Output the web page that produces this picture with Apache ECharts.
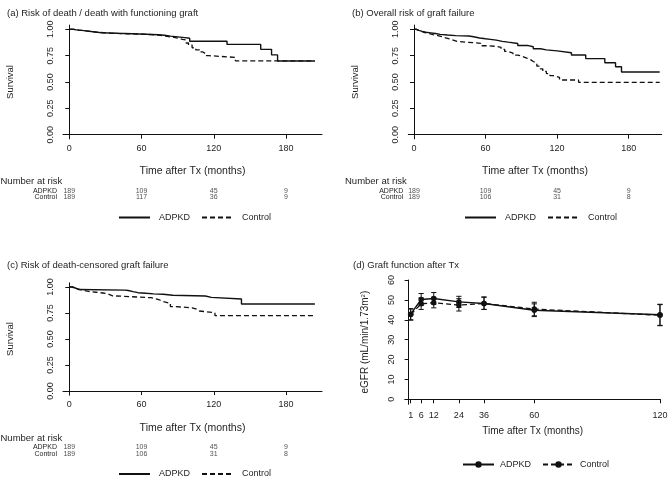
<!DOCTYPE html>
<html><head><meta charset="utf-8">
<script src="https://cdn.jsdelivr.net/npm/echarts@6/dist/echarts.min.js"></script>
<style>html,body{margin:0;padding:0;background:#fff}#c{width:669px;height:483px}</style>
</head><body><div id="c"></div>
<script>
// ---------- DATA ----------
const kmTicks = [0, 60, 120, 180];
const survTicks = [0, 0.25, 0.5, 0.75, 1];
// (a) death / death with functioning graft  [months, survival]
const kmA_adpkd = [[0,1],[3,0.995],[6,0.99],[10,0.985],[14,0.979],[18,0.973],[22,0.967],[27,0.962],[40,0.958],[52,0.953],[64,0.948],[74,0.944],[79,0.935],[84,0.928],[90,0.921],[96,0.915],[100,0.887],[131,0.857],[159,0.81],[168,0.757],[173,0.70],[204,0.70]];
const kmA_control = [[0,1],[4,0.993],[8,0.986],[13,0.979],[18,0.972],[24,0.962],[35,0.958],[48,0.954],[60,0.95],[68,0.944],[74,0.935],[80,0.925],[86,0.915],[91,0.905],[94,0.9],[97,0.87],[99,0.85],[102,0.825],[105,0.805],[108,0.785],[111,0.77],[113,0.75],[116,0.734],[138,0.70],[204,0.70]];
// (b) overall graft failure
const kmB_adpkd = [[0,1],[2,0.99],[4,0.98],[7,0.972],[10,0.966],[14,0.96],[18,0.952],[22,0.946],[28,0.94],[35,0.937],[46,0.93],[50,0.918],[55,0.91],[60,0.905],[64,0.897],[69,0.886],[74,0.878],[79,0.866],[87,0.847],[95,0.835],[100,0.815],[106,0.805],[111,0.795],[120,0.778],[132,0.756],[144,0.722],[160,0.683],[169,0.645],[174,0.595],[206,0.595]];
const kmB_control = [[0,1],[2,0.985],[5,0.972],[8,0.962],[12,0.95],[16,0.94],[20,0.928],[24,0.915],[28,0.9],[32,0.885],[36,0.867],[56,0.844],[62,0.838],[69,0.829],[73,0.81],[76,0.79],[79,0.775],[83,0.756],[87,0.742],[91,0.725],[95,0.71],[98,0.695],[100,0.677],[103,0.65],[106,0.625],[108,0.6],[111,0.58],[114,0.56],[117,0.545],[122,0.519],[138,0.497],[206,0.497]];
// (c) death-censored graft failure
const kmC_adpkd = [[0,1],[2,0.99],[5,0.975],[8,0.97],[46,0.966],[49,0.955],[53,0.945],[57,0.939],[64,0.934],[70,0.93],[78,0.92],[86,0.913],[113,0.9],[118,0.885],[143,0.837],[204,0.837]];
const kmC_control = [[0,1],[3,0.985],[6,0.975],[9,0.962],[14,0.955],[17,0.949],[22,0.942],[28,0.933],[32,0.915],[36,0.897],[68,0.885],[72,0.875],[75,0.86],[78,0.843],[84,0.811],[88,0.8],[102,0.785],[106,0.769],[108,0.753],[121,0.724],[203,0.724]];
// number at risk
const riskTimes = [0, 60, 120, 180];
const riskA_adpkd = [189, 109, 45, 9];
const riskA_control = [189, 117, 36, 9];
const riskB_adpkd = [189, 109, 45, 9];
const riskB_control = [189, 106, 31, 8];
const riskC_adpkd = [189, 109, 45, 9];
const riskC_control = [189, 106, 31, 8];
// (d) eGFR
const months = [1, 6, 12, 24, 36, 60, 120];
const egfrTicks = [0, 10, 20, 30, 40, 50, 60];
const egfrAdpkd = [42.8, 50.2, 50.7, 49.0, 48.2, 44.8, 42.5];
const egfrAdpkdLow = [40.0, 47.2, 47.8, 46.2, 45.2, 41.6, 37.2];
const egfrAdpkdHigh = [45.6, 53.2, 53.7, 51.8, 51.3, 48.0, 47.8];
const egfrControl = [42.6, 48.0, 48.6, 47.4, 48.2, 45.4, 42.3];
const egfrControlLow = [39.8, 45.2, 46.0, 44.4, 45.2, 42.0, 37.0];
const egfrControlHigh = [45.4, 51.0, 51.3, 50.6, 51.5, 48.8, 47.6];

// ---------- STYLE ----------
const FONT = '"Liberation Sans", Arial, Helvetica, sans-serif';
const TXT = '#1e1e1e';
const LINE = '#111';
const DASH = [5, 3];

const chart = echarts.init(document.getElementById('c'), null, {renderer: 'canvas'});

function grid(left, top, width, height) {
  return {left, top, width, height, outerBoundsMode: 'none', containLabel: false};
}
function kmX(gi, min, max) {
  return {
    type: 'value', gridIndex: gi, min, max,
    name: 'Time after Tx (months)', nameLocation: 'middle', nameGap: 27,
    nameTextStyle: {fontFamily: FONT, fontSize: 10.5, color: TXT},
    axisLine: {show: true, lineStyle: {color: LINE, width: 1}},
    axisTick: {show: true, length: 4, customValues: kmTicks, lineStyle: {color: LINE}},
    axisLabel: {show: true, customValues: kmTicks, margin: 5, fontFamily: FONT, fontSize: 9, color: TXT},
    splitLine: {show: false}
  };
}
function kmY(gi) {
  return {
    type: 'value', gridIndex: gi, min: -0.04, max: 1.04,
    name: 'Survival', nameLocation: 'middle', nameGap: 48, nameRotate: 90,
    nameTextStyle: {fontFamily: FONT, fontSize: 9.5, color: TXT},
    axisLine: {show: true, lineStyle: {color: LINE, width: 1}},
    axisTick: {show: true, length: 4, customValues: survTicks, lineStyle: {color: LINE}},
    axisLabel: {show: true, customValues: survTicks, rotate: 90, margin: 8, fontFamily: FONT, fontSize: 9, color: TXT,
      formatter: v => v.toFixed(2)},
    splitLine: {show: false}
  };
}
function riskX(gi, min, max) {
  return {type: 'value', gridIndex: gi, min, max, show: false, splitLine: {show: false}};
}
function riskY(gi, margin) {
  return {type: 'category', gridIndex: gi, data: ['ADPKD', 'Control'], inverse: true, boundaryGap: false,
    axisLine: {show: false}, axisTick: {show: false}, splitLine: {show: false},
    axisLabel: {show: true, interval: 0, hideOverlap: false, margin, fontFamily: FONT, fontSize: 7, color: TXT}};
}
function kmSeries(name, data, gi, dashed) {
  return {type: 'line', name, xAxisIndex: gi, yAxisIndex: gi, data, step: 'end', symbol: 'none', showSymbol: false,
    silent: true, animation: false,
    lineStyle: {color: LINE, width: dashed ? 1.3 : 1.4, type: dashed ? DASH : 'solid'},
    itemStyle: {color: LINE}};
}
function riskSeries(gi, group, values) {
  return {type: 'scatter', xAxisIndex: gi, yAxisIndex: gi, symbolSize: 0, silent: true, animation: false,
    data: riskTimes.map((t, i) => [t, group, values[i]]),
    label: {show: true, position: 'inside', formatter: p => String(p.value[2]), fontFamily: FONT, fontSize: 7, color: TXT}};
}
function errSeries(gi, lows, highs) {
  return {type: 'custom', xAxisIndex: gi, yAxisIndex: gi, silent: true, animation: false, clip: false,
    data: months.map((m, i) => [m, lows[i], highs[i]]),
    encode: {x: 0, y: [1, 2]},
    renderItem: (params, api) => {
      const lo = api.coord([api.value(0), api.value(1)]);
      const hi = api.coord([api.value(0), api.value(2)]);
      const w = 2.6;
      const st = {stroke: LINE, lineWidth: 1};
      return {type: 'group', children: [
        {type: 'line', shape: {x1: lo[0], y1: lo[1], x2: hi[0], y2: hi[1]}, style: st},
        {type: 'line', shape: {x1: lo[0] - w, y1: lo[1], x2: lo[0] + w, y2: lo[1]}, style: st},
        {type: 'line', shape: {x1: hi[0] - w, y1: hi[1], x2: hi[0] + w, y2: hi[1]}, style: st}
      ]};
    }};
}
function legend(left, top, names, textPad, hideSymbol) {
  const l = {left, top, padding: 0, itemWidth: 31, itemHeight: 8, itemGap: 11, selectedMode: false,
    data: names, formatter: n => n.trim(),
    textStyle: {fontFamily: FONT, fontSize: 9, color: TXT, padding: [0, 0, 0, textPad]}};
  if (hideSymbol) l.itemStyle = {opacity: 0};
  return l;
}
function ttl(text, left, top, size) {
  return {text, left, top, padding: 0,
    textStyle: {fontFamily: FONT, fontSize: size, fontWeight: 'normal', color: TXT}};
}

const dX = {
  type: 'value', gridIndex: 3, min: -1.72, max: 120.2,
  name: 'Time after Tx (months)', nameLocation: 'middle', nameGap: 22,
  nameTextStyle: {fontFamily: FONT, fontSize: 10, color: TXT},
  axisLine: {show: true, lineStyle: {color: LINE}},
  axisTick: {show: true, length: 4, customValues: months, lineStyle: {color: LINE}},
  axisLabel: {show: true, customValues: months, margin: 7, fontFamily: FONT, fontSize: 9, color: TXT},
  splitLine: {show: false}
};
const dY = {
  type: 'value', gridIndex: 3, min: -2.5, max: 60,
  name: 'eGFR (mL/min/1.73m{sup|2})', nameLocation: 'middle', nameGap: 34, nameRotate: 90,
  nameTextStyle: {fontFamily: FONT, fontSize: 10, color: TXT,
    rich: {sup: {fontFamily: FONT, fontSize: 6, color: TXT, verticalAlign: 'top', padding: [0, 0, 5, 0]}}},
  axisLine: {show: true, lineStyle: {color: LINE}},
  axisTick: {show: true, length: 4, customValues: egfrTicks, lineStyle: {color: LINE}},
  axisLabel: {show: true, customValues: egfrTicks, rotate: 90, margin: 9, fontFamily: FONT, fontSize: 9, color: TXT},
  splitLine: {show: false}
};

const option = {
  backgroundColor: '#fff',
  animation: false,
  title: [
    ttl('(a) Risk of death / death with functioning graft', 7, 8, 9.5),
    ttl('(b) Overall risk of graft failure', 352, 8, 9.5),
    ttl('(c) Risk of death-censored graft failure', 7, 260, 9.5),
    ttl('(d) Graft function after Tx', 353, 260, 9.5),
    ttl('Number at risk', 0.5, 176.5, 9.5),
    ttl('Number at risk', 345, 176.5, 9.5),
    ttl('Number at risk', 0.5, 433, 9.5)
  ],
  legend: [
    legend(118, 213, ['ADPKD', 'Control'], 4, true),
    legend(464, 213, ['ADPKD', 'Control'], 4, true),
    legend(118, 469.5, ['ADPKD', 'Control'], 4, true),
    legend(462, 460, ['ADPKD ', 'Control '], 1, false)
  ],
  grid: [
    grid(63, 25.1, 259, 113.8),
    grid(408.3, 25.1, 253.4, 113.8),
    grid(63, 282.8, 259, 112.4),
    grid(405, 280, 255.4, 124.3),
    grid(63, 191, 259, 6.5),
    grid(408.3, 191, 253.4, 6.5),
    grid(63, 447.5, 259, 6.5)
  ],
  xAxis: [
    kmX(0, -5.23, 209.9),
    kmX(1, -4.78, 207.7),
    kmX(2, -5.23, 209.9),
    dX,
    riskX(4, -5.23, 209.9),
    riskX(5, -4.78, 207.7),
    riskX(6, -5.23, 209.9)
  ],
  yAxis: [
    kmY(0), kmY(1), kmY(2), dY,
    riskY(4, 6), riskY(5, 5), riskY(6, 6)
  ],
  series: [
    kmSeries('ADPKD', kmA_adpkd, 0, false),
    kmSeries('Control', kmA_control, 0, true),
    kmSeries('ADPKD', kmB_adpkd, 1, false),
    kmSeries('Control', kmB_control, 1, true),
    kmSeries('ADPKD', kmC_adpkd, 2, false),
    kmSeries('Control', kmC_control, 2, true),
    {type: 'line', name: 'ADPKD ', xAxisIndex: 3, yAxisIndex: 3, data: months.map((m, i) => [m, egfrAdpkd[i]]),
      symbol: 'circle', symbolSize: 5.5, silent: true, animation: false,
      lineStyle: {color: LINE, width: 1.4}, itemStyle: {color: LINE}},
    {type: 'line', name: 'Control ', xAxisIndex: 3, yAxisIndex: 3, data: months.map((m, i) => [m, egfrControl[i]]),
      symbol: 'circle', symbolSize: 5.5, silent: true, animation: false,
      lineStyle: {color: LINE, width: 1.3, type: DASH}, itemStyle: {color: LINE}},
    errSeries(3, egfrAdpkdLow, egfrAdpkdHigh),
    errSeries(3, egfrControlLow, egfrControlHigh),
    riskSeries(4, 'ADPKD', riskA_adpkd),
    riskSeries(4, 'Control', riskA_control),
    riskSeries(5, 'ADPKD', riskB_adpkd),
    riskSeries(5, 'Control', riskB_control),
    riskSeries(6, 'ADPKD', riskC_adpkd),
    riskSeries(6, 'Control', riskC_control)
  ]
};
chart.setOption(option);
</script>
</body></html>
